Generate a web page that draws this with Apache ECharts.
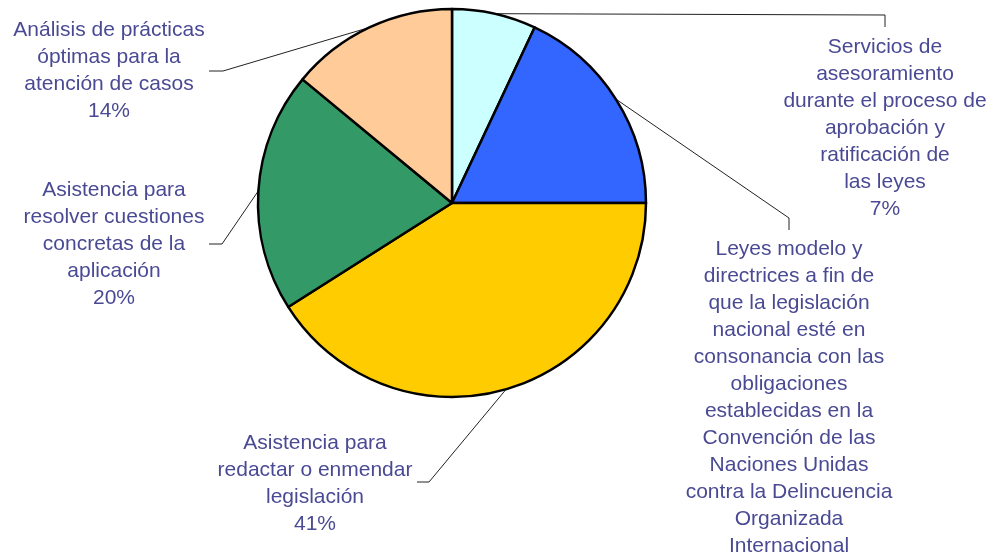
<!DOCTYPE html>
<html>
<head>
<meta charset="utf-8">
<script src="https://cdn.jsdelivr.net/npm/echarts@6/dist/echarts.min.js"></script>
<style>html,body{margin:0;padding:0;background:#fff}#c{width:997px;height:560px}</style>
</head>
<body>
<div id="c"></div>
<script>
var categories = [
  'Servicios de\nasesoramiento\ndurante el proceso de\naprobación y\nratificación de\nlas leyes',
  'Leyes modelo y\ndirectrices a fin de\nque la legislación\nnacional esté en\nconsonancia con las\nobligaciones\nestablecidas en la\nConvención de las\nNaciones Unidas\ncontra la Delincuencia\nOrganizada\nInternacional',
  'Asistencia para\nredactar o enmendar\nlegislación',
  'Asistencia para\nresolver cuestiones\nconcretas de la\naplicación',
  'Análisis de prácticas\nóptimas para la\natención de casos'
];
var values = [7, 18, 41, 20, 14];
var colors = ['#CCFFFF', '#3366FF', '#FFCC00', '#339966', '#FFCC99'];

// label layout: text centre x, text top y, elbow point, end point
var labelPos = [
  {x: 885, y: 34, elbow: [885, 15], end: [885, 27]},
  {x: 789, y: 236, elbow: [789, 218], end: [789, 230]},
  {x: 315, y: 430, elbow: [429, 482], end: [417, 482]},
  {x: 114, y: 177, elbow: [222, 244], end: [209, 244]},
  {x: 109, y: 17, elbow: [223, 71], end: [209, 71]}
];

var chart = echarts.init(document.getElementById('c'), null, {renderer: 'canvas'});
chart.setOption({
  backgroundColor: '#ffffff',
  animation: false,
  series: [{
    type: 'pie',
    center: [452, 203],
    radius: 194,
    startAngle: 90,
    clockwise: true,
    percentPrecision: 0,
    avoidLabelOverlap: false,
    data: categories.map(function (n, i) {
      return {name: n, value: values[i], itemStyle: {color: colors[i]}};
    }),
    itemStyle: {borderColor: '#000', borderWidth: 2.5},
    emphasis: {disabled: true},
    label: {
      show: true,
      formatter: '{b}\n{d}%',
      fontFamily: 'Liberation Sans, Arial, sans-serif',
      fontSize: 21,
      lineHeight: 27,
      color: '#4A4A94',
      align: 'center'
    },
    labelLine: {
      show: true,
      length: 10,
      length2: 10,
      lineStyle: {color: '#222', width: 1}
    },
    labelLayout: function (params) {
      var p = labelPos[params.dataIndex];
      var start = params.labelLinePoints ? params.labelLinePoints[0] : p.elbow;
      return {
        x: p.x,
        y: p.y,
        align: 'center',
        verticalAlign: 'top',
        labelLinePoints: [start, p.elbow, p.end]
      };
    }
  }]
});
</script>
</body>
</html>
